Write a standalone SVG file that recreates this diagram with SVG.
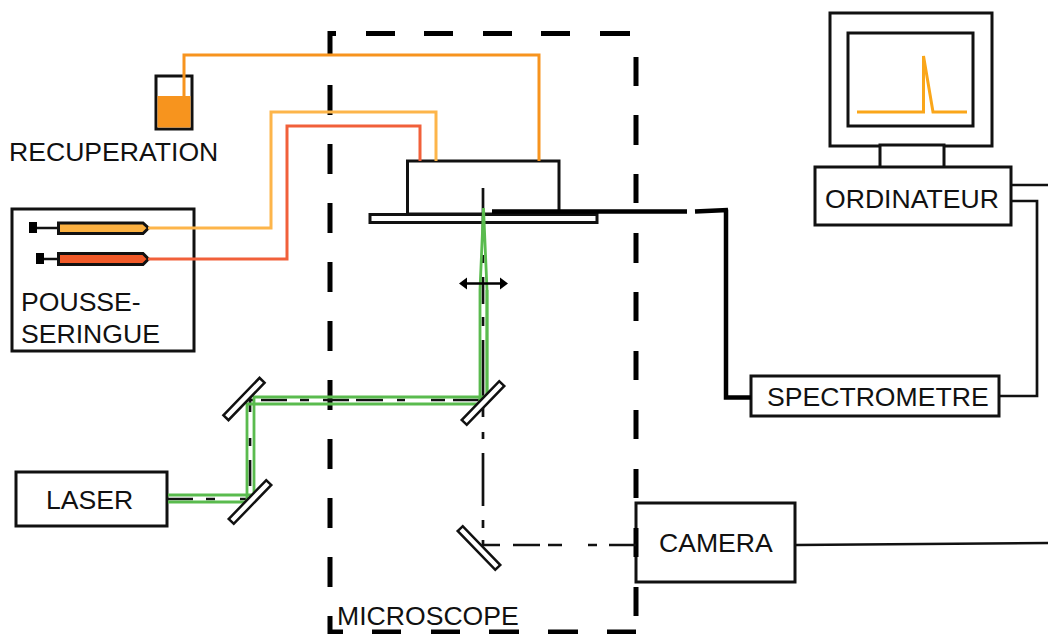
<svg xmlns="http://www.w3.org/2000/svg" width="1048" height="634" viewBox="0 0 1048 634">
<style>
text{font-family:"Liberation Sans",Arial,sans-serif;font-size:26.6px;fill:#111}
.b{fill:#fff;stroke:#111;stroke-width:3}
.m{fill:#fff;stroke:#111;stroke-width:2.5}
.w{fill:none;stroke:#111;stroke-width:2.7}
.bx{fill:none;stroke:#000;stroke-width:5}
.g{fill:none;stroke:#5abb4e;stroke-width:2.8}
.d{fill:none;stroke:#111;stroke-width:2.7}
.o1{fill:none;stroke:#f7941e;stroke-width:3}
.o2{fill:none;stroke:#fdb54a;stroke-width:3}
.o3{fill:none;stroke:#f1603a;stroke-width:3}
</style>
<rect width="1048" height="634" fill="#fff"/>
<g id="recuperation">
<rect x="156" y="76" width="36" height="53" class="b"/>
<rect x="157.500" y="96" width="33" height="31.500" fill="#f7941e"/>
<text x="9" y="161">RECUPERATION</text>
</g>
<g id="pousse-seringue">
<rect x="12" y="209" width="182" height="142" class="b"/>
<path class="d" d="M36 228H58M44 259H58"/>
<rect x="29" y="222" width="8" height="11" fill="#000"/>
<rect x="36" y="253" width="8" height="11" fill="#000"/>
<path d="M58.500 223H143L148.500 228L143 233.500H58.500Z" fill="#fbb040" stroke="#111" stroke-width="3"/>
<path d="M58.500 253.500H143L148.500 259L143 264.500H58.500Z" fill="#f15a29" stroke="#111" stroke-width="3"/>
<text x="21" y="311">POUSSE-</text>
<text x="21" y="343">SERINGUE</text>
</g>
<g id="flow-cell">
<rect x="407.500" y="161" width="151.500" height="53" class="b"/>
<rect x="370" y="214.500" width="227" height="8" class="b"/>
</g>
<g id="laser"><rect x="16" y="472" width="151" height="54" class="b"/><text x="46" y="509">LASER</text></g>
<g id="camera"><rect x="636" y="503" width="159" height="79" class="b"/><text x="659" y="552">CAMERA</text></g>
<g id="spectrometre"><rect x="751" y="376" width="248" height="40" class="b"/><text x="767" y="406">SPECTROMETRE</text></g>
<g id="ordinateur">
<rect x="830" y="13" width="162" height="133" class="b"/>
<rect x="848" y="33" width="125" height="93" class="b"/>
<path d="M857 112H923.500L923.500 56L933 112H967" fill="none" stroke="#faa61a" stroke-width="3"/>
<rect x="880" y="145" width="64" height="23" class="b"/>
<rect x="815" y="167" width="196" height="58" class="b"/>
<text x="825" y="208">ORDINATEUR</text>
</g>
<g id="microscope-frame">
<path class="bx" d="M330 55V33.500H336M366 33.500H395M424 33.500H453M483 33.500H512M541 33.500H570M600 33.500H630"/>
<path class="bx" d="M330 85V115M330 144V174M330 203V233M330 262V292M330 321V351M330 380V410M330 439V469M330 498V528M330 557V587M330 616V632H343"/>
<path class="bx" d="M636 57V86M636 115V145M636 174V203M636 233V263M636 292V321M636 351V380M636 410V439M636 469V498M636 528V557M636 587V616"/>
<path class="bx" d="M372 632H401M431 632H460M489 632H519M548 632H578M607 632H636"/>
<text x="337" y="625">MICROSCOPE</text>
</g>
<g id="connectors">
<path class="w" d="M1012 185H1048M1012 201H1037V396H999M796 545L1048 543"/>
<path d="M492 211.500H687M695 211.500L728 210M726 209.500V397.500H751" fill="none" stroke="#000" stroke-width="4.500"/>
<path class="o1" d="M184 96V55H539V161"/>
<path class="o2" d="M148 228H271V112H436V161"/>
<path class="o3" d="M148 259H287V126H420V161"/>
</g>
<g id="beam">
<path class="d" d="M483 188V238M483 255V263M483 277V304M483 317V326M483 340V417M483 432V439M483 453V506M483 520V528M483 540V545H500M513 545H540M548 545H562M588 545H597M609 545H636"/>
<path class="d" d="M251 400H254M261 400H287M300 400H309M323 400H349M356 400H383M397 400H405M431 400H445M453 400H480"/>
<path class="d" d="M250 398V412M250 438V446M250 460V486M167 499H193M206 499H215M240 499H248"/>
<path class="g" d="M168 502H247V404H480V290L483.500 208L487 290V404"/>
<path class="g" d="M168 495H254V397H487V290M480 397V404"/>
</g>
<g id="lens">
<path d="M463 283.500H504" stroke="#000" stroke-width="2.700"/>
<path d="M459 283.500L467 277.500V289.500ZM508 283.500L500 277.500V289.500Z" fill="#000"/>
</g>
<g id="mirrors">
<rect x="-26" y="-3.500" width="52" height="7" class="m" transform="translate(244 399) rotate(-46)"/>
<rect x="-27" y="-3.500" width="54" height="7" class="m" transform="translate(250 502) rotate(-46)"/>
<rect x="-27" y="-3.500" width="54" height="7" class="m" transform="translate(483 403) rotate(-46)"/>
<rect x="-27" y="-3.500" width="54" height="7" class="m" transform="translate(479 548) rotate(46)"/>
</g>
</svg>
